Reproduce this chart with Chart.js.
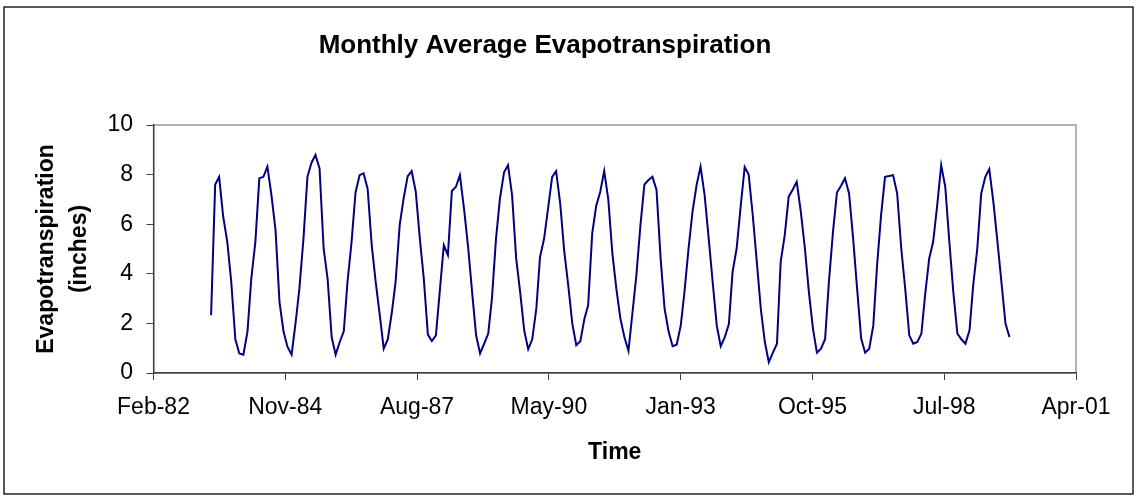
<!DOCTYPE html>
<html>
<head>
<meta charset="utf-8">
<script src="https://cdn.jsdelivr.net/npm/chart.js@4.4.1/dist/chart.umd.min.js"></script>
<style>
  body { margin: 0; background: #fff; }
  canvas { display: block; }
</style>
</head>
<body>
<canvas id="myChart" width="1138" height="498"></canvas>
<script>
// monthly series, first value is May 1983
const startYear = 1983;
const startMonth = 5;
const etValues = [
  2.33, 7.60, 7.91, 6.30, 5.29, 3.67, 1.36, 0.79, 0.74, 1.66, 3.80, 5.29,
  7.85, 7.91, 8.32, 7.17, 5.76, 2.87, 1.66, 1.05, 0.74, 2.06, 3.40, 5.42,
  7.91, 8.48, 8.79, 8.25, 5.02, 3.81, 1.45, 0.74, 1.25, 1.68, 3.67, 5.29,
  7.28, 7.98, 8.05, 7.42, 5.15, 3.67, 2.33, 0.98, 1.36, 2.46, 3.67, 5.96,
  7.04, 7.94, 8.14, 7.31, 5.42, 3.81, 1.55, 1.29, 1.52, 3.40, 5.15, 4.75,
  7.34, 7.51, 7.98, 6.64, 5.10, 3.30, 1.52, 0.79, 1.18, 1.59, 3.00, 5.42,
  7.04, 8.09, 8.38, 7.17, 4.62, 3.27, 1.72, 0.96, 1.36, 2.60, 4.68, 5.42,
  6.64, 7.91, 8.14, 6.84, 4.89, 3.54, 1.99, 1.12, 1.28, 2.19, 2.73, 5.63,
  6.74, 7.31, 8.14, 7.00, 4.82, 3.40, 2.19, 1.45, 0.89, 2.46, 3.94, 5.96,
  7.60, 7.78, 7.91, 7.38, 4.62, 2.60, 1.66, 1.08, 1.14, 1.92, 3.27, 5.02,
  6.50, 7.58, 8.32, 7.17, 5.42, 3.67, 1.92, 1.08, 1.45, 1.97, 4.08, 5.02,
  6.70, 8.30, 8.01, 6.37, 4.48, 2.60, 1.25, 0.44, 0.82, 1.18, 4.48, 5.56,
  7.11, 7.40, 7.71, 6.50, 5.02, 3.27, 1.79, 0.82, 0.98, 1.36, 3.67, 5.69,
  7.28, 7.55, 7.85, 7.24, 5.42, 3.40, 1.39, 0.82, 0.98, 1.92, 4.30, 6.37,
  7.91, 7.94, 7.98, 7.24, 5.02, 3.40, 1.52, 1.18, 1.25, 1.59, 3.14, 4.62,
  5.29, 6.77, 8.38, 7.51, 5.29, 3.27, 1.59, 1.36, 1.18, 1.72, 3.54, 5.02,
  7.24, 7.91, 8.22, 6.90, 5.29, 3.67, 1.99, 1.45
];
// x axis runs on spreadsheet day numbers, one tick every 1000 days
const xMin = 30000;
const xMax = 37000;
const xStep = 1000;
const xTickLabels = ['Feb-82', 'Nov-84', 'Aug-87', 'May-90', 'Jan-93', 'Oct-95', 'Jul-98', 'Apr-01'];
const yTicks = [0, 2, 4, 6, 8, 10];

function serialDay(i) {
  return Date.UTC(startYear, startMonth - 1 + i, 1) / 86400000 + 25569;
}

const points = etValues.map((v, i) => ({ x: serialDay(i), y: v }));

const fontFam = "Arial, 'Liberation Sans', sans-serif";
Chart.defaults.font.family = fontFam;
Chart.defaults.color = '#000';

const frame = {
  id: 'frame',
  beforeDraw(chart) {
    const c = chart.ctx;
    const a = chart.chartArea;
    c.save();
    c.fillStyle = '#fff';
    c.fillRect(0, 0, chart.width, chart.height);
    c.strokeStyle = '#000';
    c.lineWidth = 1.3;
    c.strokeRect(4, 7, 1129, 487);
    c.strokeStyle = '#808080';
    c.lineWidth = 1.2;
    c.strokeRect(a.left, a.top, a.right - a.left, a.bottom - a.top);
    c.restore();
  }
};

new Chart(document.getElementById('myChart'), {
  type: 'line',
  data: {
    datasets: [{
      label: 'Evapotranspiration',
      data: points,
      borderColor: '#000080',
      borderWidth: 2,
      pointRadius: 0,
      tension: 0,
      fill: false
    }]
  },
  options: {
    responsive: false,
    devicePixelRatio: 1,
    animation: false,
    layout: { padding: { left: 14, right: 62, top: 0, bottom: 0 } },
    plugins: {
      legend: { display: false },
      tooltip: { enabled: false },
      title: {
        display: true,
        text: 'Monthly Average Evapotranspiration',
        color: '#000',
        font: { size: 26, weight: 'bold' },
        padding: { top: 30.4, bottom: 63.4 }
      }
    },
    scales: {
      x: {
        type: 'linear',
        min: xMin,
        max: xMax,
        afterFit: (s) => { s.height = 125; },
        afterBuildTicks: (s) => {
          s.ticks = xTickLabels.map((t, i) => ({ value: xMin + i * xStep }));
        },
        border: { display: true, color: '#404040', width: 1.5 },
        grid: { drawOnChartArea: false, drawTicks: true, tickLength: 7, color: '#404040' },
        ticks: {
          padding: 14,
          maxRotation: 0,
          autoSkip: false,
          font: { size: 23 },
          callback: (v) => xTickLabels[Math.round((v - xMin) / xStep)]
        },
        title: {
          display: true,
          text: 'Time',
          font: { size: 23, weight: 'bold' },
          padding: { bottom: 32 }
        }
      },
      y: {
        min: 0,
        max: 10,
        afterFit: (s) => { s.width = 139.5; },
        afterBuildTicks: (s) => {
          s.ticks = yTicks.map((v) => ({ value: v }));
        },
        border: { display: true, color: '#404040', width: 1.5 },
        grid: { drawOnChartArea: false, drawTicks: true, tickLength: 7, color: '#404040' },
        ticks: {
          padding: 13.5,
          font: { size: 23 }
        },
        title: {
          display: true,
          text: ['Evapotranspiration', '(inches)'],
          font: { size: 23, weight: 'bold', lineHeight: 1.43 },
          padding: { top: 16.5 }
        }
      }
    }
  },
  plugins: [frame]
});
</script>
</body>
</html>
